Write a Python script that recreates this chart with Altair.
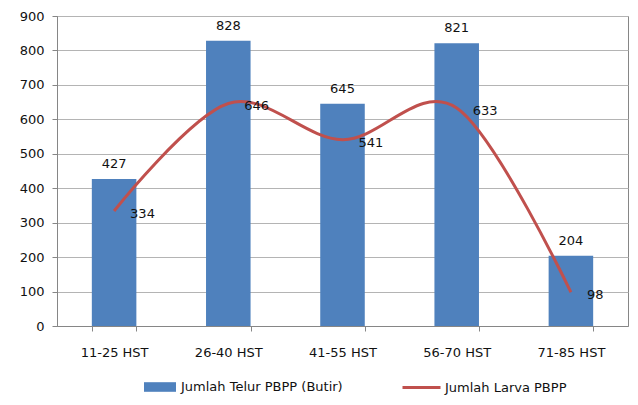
import altair as alt
import pandas as pd

categories = ["11-25 HST", "26-40 HST", "41-55 HST", "56-70 HST", "71-85 HST"]
telur = [427, 828, 645, 821, 204]
larva = [334, 646, 541, 633, 98]
bar_name = "Jumlah Telur PBPP (Butir)"
line_name = "Jumlah Larva PBPP"
y_ticks = list(range(0, 1000, 100))

df = pd.DataFrame({
    "cat": categories,
    "telur": telur,
    "larva": larva,
    "s1": [bar_name] * len(categories),
    "s2": [line_name] * len(categories),
})

FONT = "DejaVu Sans"

xaxis = alt.Axis(labelAngle=0, tickBand="extent", tickSize=5, labelPadding=15)
yaxis = alt.Axis(values=y_ticks, tickSize=5, labelPadding=8)
xscale = alt.Scale(paddingInner=0.61, paddingOuter=0.305)
yscale = alt.Scale(domain=[0, 900], nice=False)


def X():
    return alt.X("cat:N", sort=categories, title=None, scale=xscale, axis=xaxis)


def Y(field):
    return alt.Y(field, scale=yscale, title=None, axis=yaxis)


base = alt.Chart(df)

bars = base.mark_bar(color="#4F81BD").encode(
    x=X(),
    y=Y("telur:Q"),
    color=alt.Color("s1:N", scale=alt.Scale(range=["#4F81BD"]), title=None,
                    legend=alt.Legend(orient="none", legendX=87, legendY=355,
                                      symbolType="M-1,-0.3L1,-0.3L1,0.3L-1,0.3Z",
                                      symbolSize=1024, symbolStrokeWidth=0,
                                      labelOffset=5)),
)

bar_labels = base.mark_text(baseline="bottom", dy=-8, fontSize=13, font=FONT, color="#111").encode(
    x=X(),
    y=Y("telur:Q"),
    text=alt.Text("telur:Q"),
)

line = base.mark_line(interpolate="cardinal", strokeWidth=3).encode(
    x=X(),
    y=Y("larva:Q"),
    stroke=alt.Stroke("s2:N", scale=alt.Scale(range=["#C0504D"]), title=None,
                      legend=alt.Legend(orient="none", legendX=344, legendY=351,
                                        symbolType="stroke", symbolSize=1444,
                                        symbolStrokeWidth=3, symbolStrokeColor="#C0504D",
                                        labelOffset=3)),
)

line_labels = base.mark_text(align="left", baseline="middle", dx=16, dy=3, fontSize=13,
                             font=FONT, color="#111").encode(
    x=X(),
    y=Y("larva:Q"),
    text=alt.Text("larva:Q"),
)

chart = alt.layer(bars, bar_labels, line, line_labels).resolve_scale(
    color="independent", stroke="independent"
).properties(
    width=571, height=310,
    padding={"left": 49, "top": 8, "right": 2, "bottom": 70},
    autosize="none",
    background="white",
).configure_view(
    stroke="#868686", strokeWidth=1
).configure_axis(
    labelFont=FONT, labelFontSize=13, labelColor="#111",
    domainColor="#868686", tickColor="#868686", gridColor="#b4b4b4",
).configure_axisX(
    grid=False
).configure_legend(
    labelFont=FONT, labelFontSize=13, labelColor="#111", labelLimit=400,
    padding=0, titlePadding=0,
)

chart.save("out.html", embed_options={"renderer": "svg", "actions": False})
